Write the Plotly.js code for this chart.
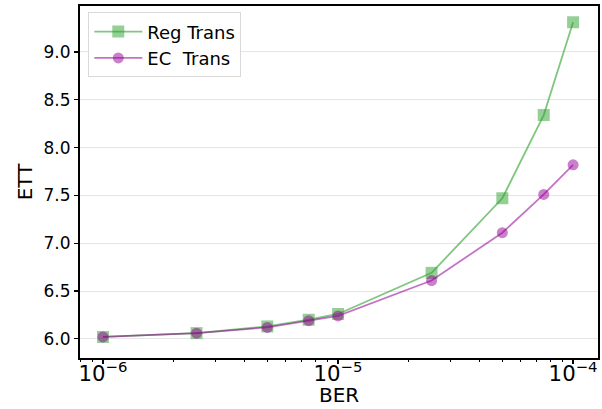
<!DOCTYPE html>
<html>
<head>
<meta charset="utf-8">
<script src="https://cdn.plot.ly/plotly-3.0.1.min.js"></script>
<style>html,body{margin:0;padding:0;background:#fff;}#chart{width:602px;height:409px;}</style>
</head>
<body>
<div id="chart"></div>
<script>
const ber = [1e-6, 2.5e-6, 5e-6, 7.5e-6, 1e-5, 2.5e-5, 5e-5, 7.5e-5, 1e-4];
const regTrans = [6.02, 6.06, 6.13, 6.20, 6.26, 6.69, 7.47, 8.34, 9.31];
const ecTrans = [6.02, 6.06, 6.12, 6.19, 6.24, 6.61, 7.11, 7.51, 7.82];
const seriesNames = ['Reg Trans', 'EC\u00a0\u00a0Trans'];
const xTitle = 'BER';
const yTitle = 'ETT';

const font = 'DejaVu Sans';
const traces = [
  {
    x: ber, y: regTrans, name: seriesNames[0], type: 'scatter', mode: 'lines+markers',
    line: {color: 'rgba(44,160,44,0.6)', width: 1.8},
    marker: {symbol: 'square', size: 12, color: 'rgba(44,160,44,0.5)', line: {width: 0}}
  },
  {
    x: ber, y: ecTrans, name: seriesNames[1], type: 'scatter', mode: 'lines+markers',
    line: {color: 'rgba(148,0,148,0.55)', width: 1.8},
    marker: {symbol: 'circle', size: 11, color: 'rgba(148,0,148,0.5)', line: {width: 0}}
  }
];
const layout = {
  width: 602, height: 409,
  margin: {l: 80, r: 4, t: 6, b: 51},
  paper_bgcolor: '#fff', plot_bgcolor: '#fff',
  font: {family: font, size: 17, color: '#000'},
  showlegend: true,
  legend: {
    x: 0.016, y: 0.982, xanchor: 'left', yanchor: 'top',
    bgcolor: 'rgba(255,255,255,0.9)', bordercolor: '#d9d9d9', borderwidth: 1,
    font: {family: font, size: 18, color: '#000'},
    itemwidth: 48,
    tracegroupgap: 0
  },
  xaxis: {
    type: 'log', range: [-6.098, -3.894],
    dtick: 1, exponentformat: 'power', showexponent: 'all',
    ticks: 'outside', ticklen: 4, tickwidth: 1.2, tickcolor: '#000',
    ticklabelposition: 'outside', ticklabelstandoff: -8,
    minor: {ticks: 'outside', ticklen: 2, tickwidth: 1, tickcolor: '#000', dtick: 'D1', showgrid: false},
    showgrid: false, zeroline: false,
    showline: true, linecolor: '#000', linewidth: 2, mirror: true,
    tickfont: {family: font, size: 17, color: '#000'}
  },
  yaxis: {
    range: [5.80, 9.48], dtick: 0.5, tick0: 6, tickformat: '.1f',
    ticks: 'outside', ticklen: 4, tickwidth: 1.2, tickcolor: '#000',
    showgrid: true, gridcolor: '#e6e6e6', gridwidth: 1, zeroline: false,
    showline: true, linecolor: '#000', linewidth: 2, mirror: true,
    title: {text: yTitle, font: {family: font, size: 20, color: '#000'}, standoff: 6},
    tickfont: {family: font, size: 17, color: '#000'}
  },
  annotations: [
    {text: xTitle, xref: 'paper', yref: 'paper', x: 0.5, y: -0.104, xanchor: 'center', yanchor: 'middle',
     showarrow: false, font: {family: font, size: 20, color: '#000'}}
  ]
};
Plotly.newPlot('chart', traces, layout, {displayModeBar: false, staticPlot: true});
</script>
</body>
</html>
